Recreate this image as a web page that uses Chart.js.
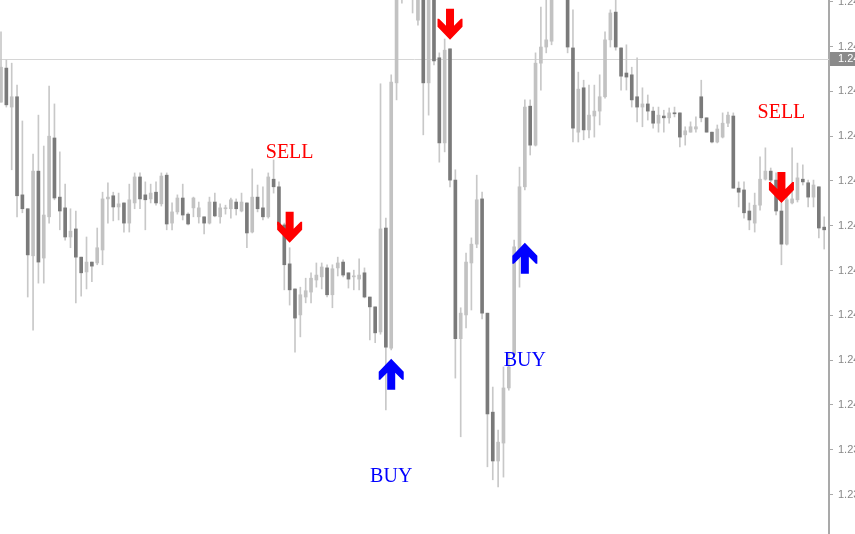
<!DOCTYPE html>
<html>
<head>
<meta charset="utf-8">
<script src="https://cdn.jsdelivr.net/npm/chart.js@4.4.1/dist/chart.umd.min.js"></script>
<style>
html, body { margin: 0; padding: 0; background: #fff; overflow: hidden; }
#wrap { width: 900px; height: 534px; }
</style>
</head>
<body>
<div id="wrap"><canvas id="chart" width="900" height="534"></canvas></div>
<script>
// candles (oldest first)
const openP = [
  1.24676, 1.24752, 1.24665, 1.24688, 1.24469, 1.24438, 1.24333, 1.24522, 1.24328, 1.24420,
  1.24596, 1.24464, 1.24440, 1.24375, 1.24393, 1.24330, 1.24297, 1.24319, 1.24317, 1.24346,
  1.24460, 1.24467, 1.24442, 1.24451, 1.24406, 1.24451, 1.24509, 1.24469, 1.24460, 1.24475,
  1.24449, 1.24513, 1.24406, 1.24431, 1.24462, 1.24426, 1.24440, 1.24420, 1.24420, 1.24406,
  1.24453, 1.24420, 1.24438, 1.24438, 1.24453, 1.24433, 1.24451, 1.24386, 1.24464, 1.24440,
  1.24420, 1.24504, 1.24487, 1.24402, 1.24315, 1.24259, 1.24201, 1.24241, 1.24252, 1.24279,
  1.24286, 1.24306, 1.24246, 1.24306, 1.24319, 1.24295, 1.24286, 1.24281, 1.24295, 1.24241,
  1.24219, 1.24163, 1.24395, 1.24127, 1.24719, 1.24937, 1.24993, 1.24926, 1.24859, 1.24949,
  1.24719, 1.24926, 1.24775, 1.24585, 1.24795, 1.24502, 1.24148, 1.24201, 1.24317, 1.24359,
  1.24460, 1.24205, 1.23984, 1.23875, 1.23915, 1.24038, 1.24112, 1.24339, 1.24487, 1.24667,
  1.24580, 1.24763, 1.24799, 1.24812, 1.24926, 1.24971, 1.24949, 1.24797, 1.24609, 1.24708,
  1.24614, 1.24645, 1.24656, 1.24688, 1.24815, 1.24877, 1.24797, 1.24741, 1.24737, 1.24688,
  1.24665, 1.24672, 1.24656, 1.24629, 1.24645, 1.24641, 1.24652, 1.24652, 1.24603, 1.24609,
  1.24616, 1.24688, 1.24641, 1.24609, 1.24587, 1.24598, 1.24629, 1.24645, 1.24484, 1.24480,
  1.24433, 1.24406, 1.24446, 1.24504, 1.24522, 1.24502, 1.24433, 1.24359, 1.24451, 1.24458,
  1.24504, 1.24496, 1.24464, 1.24487, 1.24397
];
const highP = [
  1.24833, 1.24770, 1.24763, 1.24714, 1.24634, 1.24438, 1.24560, 1.24647, 1.24578, 1.24712,
  1.24672, 1.24565, 1.24493, 1.24438, 1.24433, 1.24330, 1.24375, 1.24319, 1.24395, 1.24475,
  1.24496, 1.24475, 1.24473, 1.24451, 1.24493, 1.24518, 1.24518, 1.24498, 1.24493, 1.24498,
  1.24518, 1.24518, 1.24451, 1.24469, 1.24493, 1.24429, 1.24464, 1.24453, 1.24420, 1.24464,
  1.24473, 1.24449, 1.24446, 1.24462, 1.24460, 1.24473, 1.24451, 1.24527, 1.24491, 1.24487,
  1.24518, 1.24547, 1.24498, 1.24406, 1.24351, 1.24259, 1.24263, 1.24283, 1.24295, 1.24317,
  1.24317, 1.24313, 1.24313, 1.24330, 1.24324, 1.24295, 1.24301, 1.24326, 1.24306, 1.24241,
  1.24219, 1.24717, 1.24417, 1.24737, 1.24971, 1.25016, 1.25016, 1.25004, 1.24971, 1.24971,
  1.24949, 1.24949, 1.24786, 1.24817, 1.24795, 1.24525, 1.24217, 1.24339, 1.24373, 1.24513,
  1.24475, 1.24205, 1.24040, 1.23944, 1.24085, 1.24116, 1.24368, 1.24531, 1.24681, 1.24681,
  1.24786, 1.24888, 1.24904, 1.24949, 1.25016, 1.25004, 1.24971, 1.24882, 1.24743, 1.24725,
  1.24714, 1.24714, 1.24737, 1.24833, 1.24882, 1.24904, 1.24797, 1.24804, 1.24754, 1.24775,
  1.24708, 1.24692, 1.24665, 1.24665, 1.24658, 1.24663, 1.24665, 1.24652, 1.24621, 1.24632,
  1.24643, 1.24725, 1.24641, 1.24609, 1.24625, 1.24652, 1.24654, 1.24652, 1.24498, 1.24498,
  1.24451, 1.24473, 1.24554, 1.24574, 1.24529, 1.24518, 1.24451, 1.24475, 1.24574, 1.24540,
  1.24536, 1.24502, 1.24502, 1.24487, 1.24420
];
const lowP = [
  1.24676, 1.24665, 1.24525, 1.24420, 1.24429, 1.24241, 1.24167, 1.24272, 1.24272, 1.24406,
  1.24458, 1.24391, 1.24368, 1.24351, 1.24228, 1.24243, 1.24259, 1.24275, 1.24313, 1.24313,
  1.24406, 1.24411, 1.24413, 1.24386, 1.24386, 1.24438, 1.24438, 1.24391, 1.24451, 1.24446,
  1.24444, 1.24391, 1.24391, 1.24426, 1.24413, 1.24402, 1.24420, 1.24406, 1.24382, 1.24404,
  1.24420, 1.24406, 1.24426, 1.24417, 1.24424, 1.24431, 1.24351, 1.24384, 1.24431, 1.24413,
  1.24417, 1.24473, 1.24391, 1.24257, 1.24223, 1.24118, 1.24152, 1.24228, 1.24228, 1.24263,
  1.24259, 1.24241, 1.24217, 1.24288, 1.24286, 1.24261, 1.24257, 1.24257, 1.24239, 1.24145,
  1.24139, 1.24158, 1.23989, 1.24123, 1.24681, 1.24897, 1.24915, 1.24875, 1.24848, 1.24603,
  1.24647, 1.24759, 1.24542, 1.24565, 1.24487, 1.24060, 1.23929, 1.24172, 1.24212, 1.24351,
  1.24192, 1.23862, 1.23833, 1.23817, 1.23839, 1.24033, 1.24107, 1.24263, 1.24480, 1.24558,
  1.24578, 1.24703, 1.24786, 1.24804, 1.24915, 1.24915, 1.24786, 1.24587, 1.24587, 1.24592,
  1.24596, 1.24598, 1.24625, 1.24685, 1.24799, 1.24792, 1.24703, 1.24703, 1.24665, 1.24632,
  1.24621, 1.24636, 1.24618, 1.24609, 1.24609, 1.24629, 1.24643, 1.24576, 1.24580, 1.24609,
  1.24609, 1.24632, 1.24609, 1.24585, 1.24585, 1.24596, 1.24621, 1.24484, 1.24442, 1.24417,
  1.24391, 1.24386, 1.24435, 1.24502, 1.24498, 1.24424, 1.24313, 1.24357, 1.24449, 1.24453,
  1.24491, 1.24442, 1.24442, 1.24373, 1.24348
];
const closeP = [
  1.24754, 1.24670, 1.24688, 1.24467, 1.24438, 1.24335, 1.24522, 1.24319, 1.24424, 1.24600,
  1.24462, 1.24433, 1.24375, 1.24388, 1.24330, 1.24295, 1.24319, 1.24310, 1.24351, 1.24460,
  1.24464, 1.24442, 1.24449, 1.24406, 1.24458, 1.24509, 1.24460, 1.24458, 1.24473, 1.24451,
  1.24511, 1.24404, 1.24431, 1.24462, 1.24424, 1.24404, 1.24462, 1.24440, 1.24406, 1.24453,
  1.24422, 1.24440, 1.24440, 1.24458, 1.24438, 1.24453, 1.24384, 1.24464, 1.24438, 1.24420,
  1.24509, 1.24487, 1.24402, 1.24313, 1.24257, 1.24194, 1.24246, 1.24255, 1.24283, 1.24290,
  1.24308, 1.24246, 1.24304, 1.24317, 1.24290, 1.24281, 1.24288, 1.24290, 1.24241, 1.24219,
  1.24161, 1.24393, 1.24129, 1.24721, 1.24949, 1.24993, 1.24949, 1.24982, 1.24949, 1.24719,
  1.24926, 1.24768, 1.24585, 1.24792, 1.24502, 1.24148, 1.24205, 1.24319, 1.24359, 1.24458,
  1.24205, 1.23980, 1.23875, 1.23917, 1.24038, 1.24085, 1.24353, 1.24487, 1.24665, 1.24580,
  1.24763, 1.24799, 1.24815, 1.24926, 1.24993, 1.24937, 1.24799, 1.24618, 1.24705, 1.24614,
  1.24647, 1.24656, 1.24688, 1.24815, 1.24875, 1.24799, 1.24734, 1.24732, 1.24681, 1.24665,
  1.24672, 1.24656, 1.24629, 1.24647, 1.24641, 1.24652, 1.24650, 1.24598, 1.24612, 1.24621,
  1.24621, 1.24641, 1.24609, 1.24587, 1.24616, 1.24629, 1.24647, 1.24484, 1.24475, 1.24429,
  1.24413, 1.24446, 1.24504, 1.24522, 1.24502, 1.24433, 1.24359, 1.24458, 1.24460, 1.24507,
  1.24498, 1.24464, 1.24491, 1.24395, 1.24391
];

// price scale
const tickValues = [1.249, 1.248, 1.247, 1.246, 1.245, 1.244, 1.243, 1.242, 1.241, 1.240, 1.239, 1.238];
const bidPrice = 1.24772;

// signals: bar index, arrow tip price, label price
const signalBar = [54, 84, 73, 98, 146];
const signalType = ['SELL', 'SELL', 'BUY', 'BUY', 'SELL'];
const signalPrice = [1.24362, 1.24815, 1.24103, 1.24362, 1.24451];
const labelPrice = [1.24563, null, 1.23839, 1.24098, 1.24652];

const UP = '#c2c2c2', DOWN = '#7a7a7a', WICK = '#c8c8c8';

let bodies = openP.map((o, i) => ({ x: i, y: [o, closeP[i]] }));
let wicks = lowP.map((l, i) => ({ x: i, y: [l, highP[i]] }));
let bodyColors = openP.map((o, i) => closeP[i] >= o ? UP : DOWN);

function drawArrow(ctx, x, tip, down, color) {
  // thick arrow, tip at (0,0), 31px long
  const pts = [[-4,-31],[4,-31],[4,-14],[11,-21],[12.5,-21],[12.5,-13],[0,0],
               [-12.5,-13],[-12.5,-21],[-11,-21],[-4,-14]];
  const s = down ? 1 : -1;
  ctx.beginPath();
  pts.forEach((p, k) => {
    if (k === 0) ctx.moveTo(x + p[0], tip + s * p[1]);
    else ctx.lineTo(x + p[0], tip + s * p[1]);
  });
  ctx.closePath();
  ctx.fillStyle = color;
  ctx.fill();
}

const overlay = {
  id: 'overlay',
  beforeDatasetsDraw(chart) {
    const { ctx, chartArea, scales } = chart;
    const py = Math.round(scales.y.getPixelForValue(bidPrice)) + 0.5;
    ctx.save();
    ctx.strokeStyle = '#d6d6d6';
    ctx.lineWidth = 1;
    ctx.beginPath();
    ctx.moveTo(chartArea.left, py);
    ctx.lineTo(chartArea.right, py);
    ctx.stroke();
    ctx.restore();
  },
  afterDraw(chart) {
    const { ctx, chartArea, scales } = chart;
    const xs = scales.x, ys = scales.y;
    ctx.save();
    ctx.beginPath();
    ctx.rect(chartArea.left, chartArea.top, chartArea.right - chartArea.left, chartArea.bottom - chartArea.top);
    ctx.clip();
    signalBar.forEach((b, i) => {
      const x = xs.getPixelForValue(b);
      const sell = signalType[i] === 'SELL';
      const color = sell ? '#ff0000' : '#0000ff';
      drawArrow(ctx, x, ys.getPixelForValue(signalPrice[i]), sell, color);
      if (labelPrice[i] !== null) {
        ctx.font = '20px "Liberation Serif", serif';
        ctx.textAlign = 'center';
        ctx.textBaseline = 'middle';
        ctx.fillStyle = color;
        ctx.fillText(signalType[i], x, ys.getPixelForValue(labelPrice[i]));
      }
    });
    ctx.restore();

    // bid price box on the axis
    const py = Math.round(ys.getPixelForValue(bidPrice));
    ctx.save();
    ctx.fillStyle = '#8a8a8a';
    ctx.fillRect(chartArea.right + 1, py - 7, 80, 14);
    ctx.fillStyle = '#ffffff';
    ctx.font = '11px "Liberation Sans", Arial, sans-serif';
    ctx.textAlign = 'left';
    ctx.textBaseline = 'middle';
    ctx.fillText(bidPrice.toFixed(5), chartArea.right + 9, py);
    ctx.restore();
  }
};

new Chart(document.getElementById('chart'), {
  type: 'bar',
  data: {
    datasets: [
      {
        label: 'wicks',
        data: wicks,
        backgroundColor: WICK,
        barThickness: 1,
        grouped: false,
        borderWidth: 0,
        clip: 0,
        order: 2
      },
      {
        label: 'bodies',
        data: bodies,
        backgroundColor: bodyColors,
        barThickness: 3,
        minBarLength: 1,
        grouped: false,
        borderWidth: 0,
        clip: 0,
        order: 1
      }
    ]
  },
  options: {
    responsive: false,
    devicePixelRatio: 1,
    animation: false,
    layout: { padding: 0 },
    plugins: { legend: { display: false }, tooltip: { enabled: false } },
    scales: {
      x: {
        type: 'linear',
        min: -0.187,
        max: 154.9,
        offset: false,
        display: false
      },
      y: {
        position: 'right',
        min: 1.23712,
        max: 1.24904,
        afterBuildTicks: (axis) => { axis.ticks = tickValues.map(v => ({ value: v })); },
        afterFit: (axis) => { axis.width = 71; axis.paddingTop = 0; axis.paddingBottom = 0; },
        ticks: {
          autoSkip: false,
          padding: 5,
          color: '#888888',
          font: { family: '"Liberation Sans", Arial, sans-serif', size: 11 },
          callback: (v) => Number(v).toFixed(5)
        },
        grid: { drawOnChartArea: false, color: '#a9a9a9', tickLength: 4 },
        border: { color: '#a9a9a9', width: 2 }
      }
    }
  },
  plugins: [overlay]
});
</script>
</body>
</html>
